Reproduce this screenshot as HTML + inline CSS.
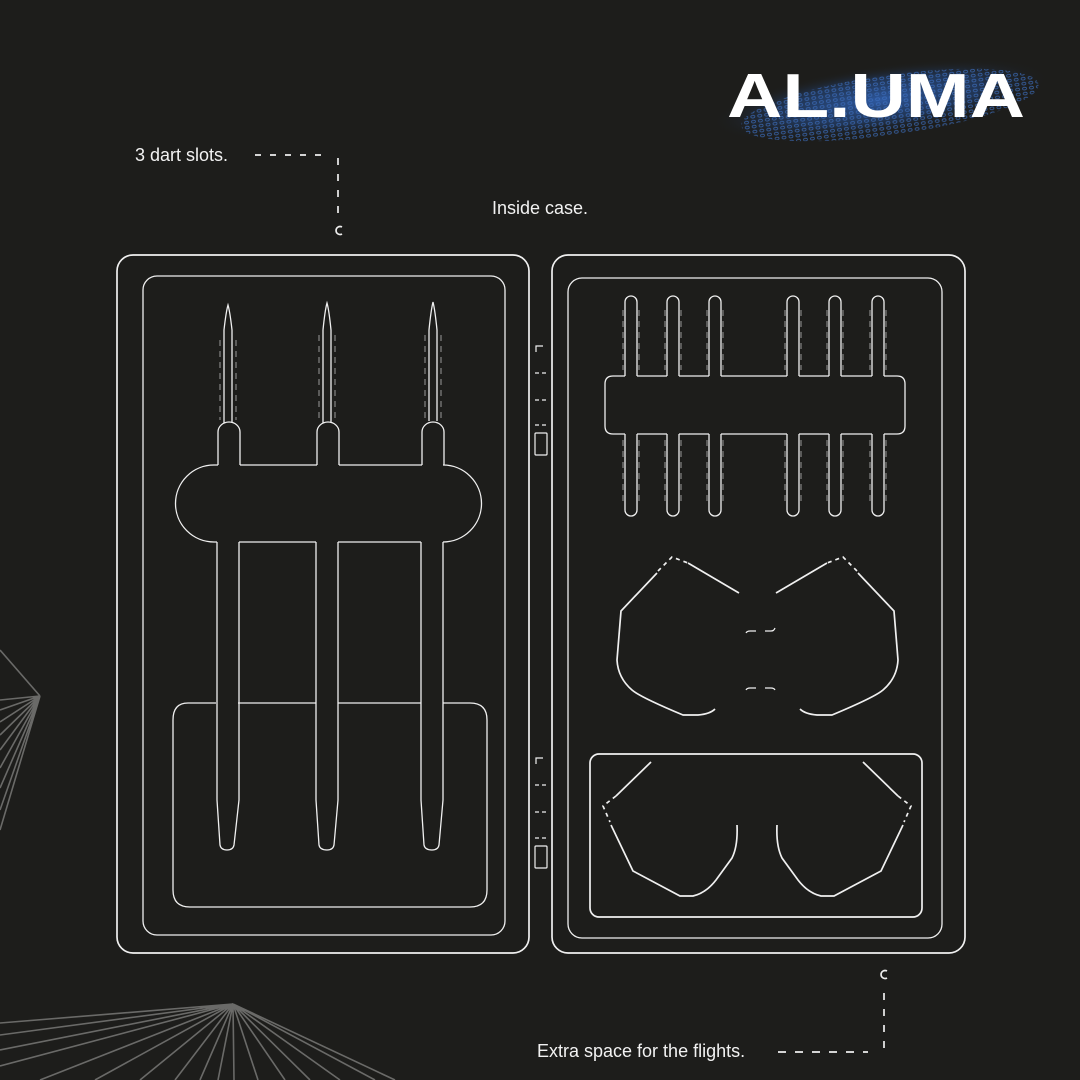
<!DOCTYPE html>
<html><head><meta charset="utf-8"><style>
html,body{margin:0;padding:0;background:#1d1d1b;}
svg{display:block}
text{font-family:"Liberation Sans",sans-serif;fill:#f2f2f2}
</style></head><body>
<svg width="1080" height="1080" viewBox="0 0 1080 1080" xmlns="http://www.w3.org/2000/svg">
<defs>
<radialGradient id="bl" cx="0.5" cy="0.5" r="0.5">
<stop offset="0" stop-color="#2f5fae" stop-opacity="0.9"/>
<stop offset="0.6" stop-color="#24477f" stop-opacity="0.55"/>
<stop offset="1" stop-color="#1d1d1b" stop-opacity="0"/>
</radialGradient>
<pattern id="dots" width="7" height="5" patternUnits="userSpaceOnUse">
<ellipse cx="3.5" cy="2.5" rx="2" ry="1.3" fill="none" stroke="#3d6fc0" stroke-width="0.8"/>
</pattern>
</defs>
<rect width="1080" height="1080" fill="#1d1d1b"/>

<g stroke="#6a6a68" stroke-width="1.6" fill="none">
<path d="M40 696 L0 650"/>
<path d="M40 696 L0 700 M40 696 L0 710 M40 696 L0 722 M40 696 L0 735 M40 696 L0 750 M40 696 L0 768 M40 696 L0 788 M40 696 L0 810 M40 696 L0 830"/>
<path d="M233 1004 L0 1023 M233 1004 L0 1035 M233 1004 L0 1050 M233 1004 L0 1066 M233 1004 L40 1080 M233 1004 L95 1080 M233 1004 L140 1080 M233 1004 L175 1080 M233 1004 L200 1080 M233 1004 L218 1080 M233 1004 L234 1080 M233 1004 L258 1080 M233 1004 L285 1080 M233 1004 L310 1080 M233 1004 L340 1080 M233 1004 L375 1080 M233 1004 L395 1080"/>
</g>

<ellipse cx="880" cy="100" rx="170" ry="34" fill="url(#bl)" transform="rotate(-8 880 100)"/>
<ellipse cx="890" cy="105" rx="150" ry="30" fill="url(#dots)" opacity="0.8" transform="rotate(-8 890 105)"/>
<text x="727" y="117" font-size="62" font-weight="bold" textLength="298" lengthAdjust="spacingAndGlyphs" style="fill:#fff">AL.UMA</text>

<text x="135" y="161" font-size="18">3 dart slots.</text>
<text x="492" y="214" font-size="18">Inside case.</text>
<text x="537" y="1057" font-size="18">Extra space for the flights.</text>
<g stroke="#eee" stroke-width="1.7" fill="none">
<path d="M255 155 H325" stroke-dasharray="6 9"/>
<path d="M338 158 V215" stroke-dasharray="7 9"/>
<path d="M342 227 A4 4 0 1 0 342 234"/>
<path d="M778 1052 H868" stroke-dasharray="8 9"/>
<path d="M884 1048 V990" stroke-dasharray="7 9"/>
<path d="M887 971 A4 4 0 1 0 887 978"/>
</g>

<g stroke="#f0f0f0" stroke-width="1.7" fill="none">
<rect x="117" y="255" width="412" height="698" rx="16"/>
<rect x="143" y="276" width="362" height="659" rx="14" stroke-width="1.3"/>
<path d="M216 703 H188 Q173 703 173 720 V890 Q173 907 190 907 H470 Q487 907 487 890 V720 Q487 703 470 703 H443 M421 703 H338 M316 703 H238" stroke-width="1.3"/>
<path d="M218 465 H214 A38 38 0 0 0 214 542 H217 M239 542 H316 M338 542 H421 M443 542 H443 A38 38 0 0 0 443 465 H444 M422 465 H339 M317 465 H240" stroke-width="1.3"/>
<g stroke-width="1.3">
<path d="M218 465 V432 A11 10 0 0 1 240 432 V465"/>
<path d="M217 542 V800 L220 845 Q221 850 227 850 Q233 850 234 845 L239 800 V542"/>
<path d="M224 423 V330 Q226 312 228 305 Q230 312 232 330 V423"/>
<path d="M317 465 V432 A11 10 0 0 1 339 432 V465"/>
<path d="M316 542 V800 L319 845 Q320 850 327 850 Q333 850 334 845 L338 800 V542"/>
<path d="M323 423 V330 Q325 310 327 303 Q329 310 331 330 V423"/>
<path d="M422 465 V432 A11 10 0 0 1 444 432 V465"/>
<path d="M421 542 V800 L424 845 Q425 850 432 850 Q438 850 439 845 L443 800 V542"/>
<path d="M429 421 V330 Q431 310 433 302 Q435 310 437 330 V421"/>
</g>
<g stroke="#999" stroke-width="1" stroke-dasharray="6 5">
<path d="M220 340 V420 M236 340 V420 M319 335 V420 M335 335 V420 M425 335 V418 M441 335 V418"/>
</g>
<g stroke-width="1.2">
<path d="M536 352 V346 H543"/><path d="M535 373 H546 M535 400 H546 M535 425 H546" stroke-dasharray="4 3"/>
<rect x="535" y="433" width="12" height="22" rx="1"/>
<path d="M536 764 V758 H543"/><path d="M535 785 H546 M535 812 H546 M535 838 H546" stroke-dasharray="4 3"/>
<rect x="535" y="846" width="12" height="22" rx="1"/>
</g>

<rect x="552" y="255" width="413" height="698" rx="16"/>
<rect x="568" y="278" width="374" height="660" rx="14" stroke-width="1.3"/>
<rect x="590" y="754" width="332" height="163" rx="9"/>
<g stroke-width="1.3">
<path d="M625 376 H613 Q605 376 605 384 V426 Q605 434 613 434 H625 M637 434 H667 M679 434 H709 M721 434 H787 M799 434 H829 M841 434 H872 M884 434 H897 Q905 434 905 426 V384 Q905 376 897 376 H884 M872 376 H841 M829 376 H799 M787 376 H721 M709 376 H679 M667 376 H637"/>
<g id="sl">
<path d="M625 376 V302 A6 6 0 0 1 637 302 V376"/>
<path d="M625 434 V510 A6 6 0 0 0 637 510 V434"/>
</g>
<use href="#sl" transform="translate(42 0)"/>
<use href="#sl" transform="translate(84 0)"/>
<use href="#sl" transform="translate(162 0)"/>
<use href="#sl" transform="translate(204 0)"/>
<use href="#sl" transform="translate(247 0)"/>
</g>
<g stroke="#999" stroke-width="1" stroke-dasharray="6 5">
<path d="M623 310 V370 M639 310 V370 M665 310 V370 M681 310 V370 M707 310 V370 M723 310 V370 M785 310 V370 M801 310 V370 M827 310 V370 M843 310 V370 M870 310 V370 M886 310 V370"/>
<path d="M623 440 V505 M639 440 V505 M665 440 V505 M681 440 V505 M707 440 V505 M723 440 V505 M785 440 V505 M801 440 V505 M827 440 V505 M843 440 V505 M870 440 V505 M886 440 V505"/>
</g>
<g>
<path d="M688 563 L739 593"/>
<path d="M657 573 L621 611 L617 660 Q618 678 632 690 Q640 697 683 715 L698 715 Q710 714 715 709"/>
<path d="M658 571 L672 557 L688 563" stroke-dasharray="4 4"/>
<path d="M746 633 Q747 631 750 631 H756 M765 631 H771 Q774 631 775 628" stroke-width="1.2"/>
<path d="M746 690 Q747 688 750 688 H756 M765 688 H771 Q774 688 775 690" stroke-width="1.2"/>
</g>
<g transform="translate(1515 0) scale(-1 1)">
<path d="M688 563 L739 593"/>
<path d="M657 573 L621 611 L617 660 Q618 678 632 690 Q640 697 683 715 L698 715 Q710 714 715 709"/>
<path d="M658 571 L672 557 L688 563" stroke-dasharray="4 4"/>
</g>
<g>
<path d="M651 762 L616 796"/>
<path d="M616 796 L603 806 L610 822" stroke-dasharray="4 4"/>
<path d="M611 825 L633 871 L680 896 L693 896 Q706 893 716 880 L732 858 Q738 846 737 825"/>
</g>
<g transform="translate(1514 0) scale(-1 1)">
<path d="M651 762 L616 796"/>
<path d="M616 796 L603 806 L610 822" stroke-dasharray="4 4"/>
<path d="M611 825 L633 871 L680 896 L693 896 Q706 893 716 880 L732 858 Q738 846 737 825"/>
</g>
</g>
</svg>
</body></html>
